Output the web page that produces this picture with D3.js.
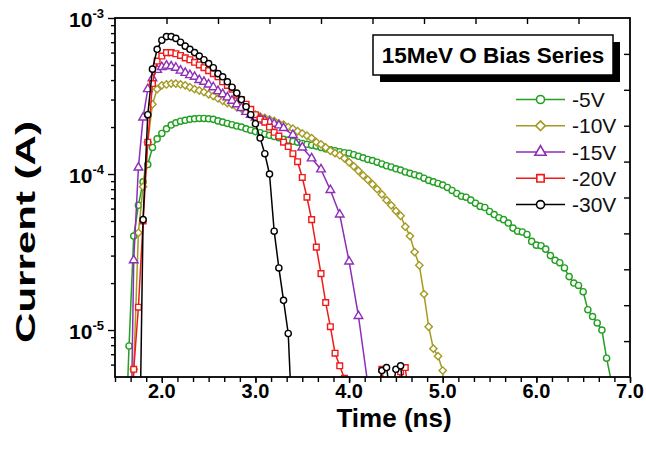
<!DOCTYPE html>
<html><head><meta charset="utf-8">
<script src="https://cdn.jsdelivr.net/npm/d3@7"></script>
<style>body{margin:0;background:#fff}svg{display:block}</style>
</head><body>
<svg id="chart" width="646" height="458"></svg>
<script>
// ---------------- data (time in ns, current in A) ----------------
const timeNs = [1.60,1.65,1.70,1.75,1.80,1.85,1.90,1.95,2.00,2.05,2.10,2.15,2.20,2.25,2.30,2.35,2.40,2.45,2.50,2.55,
2.60,2.65,2.70,2.75,2.80,2.85,2.90,2.95,3.00,3.05,3.10,3.15,3.20,3.25,3.30,3.35,3.40,3.45,3.50,3.55,
3.60,3.65,3.70,3.75,3.80,3.85,3.90,3.95,4.00,4.05,4.10,4.15,4.20,4.25,4.30,4.35,4.40,4.45,4.50,4.55,
4.60,4.65,4.70,4.75,4.80,4.85,4.90,4.95,5.00,5.05,5.10,5.15,5.20,5.25,5.30,5.35,5.40,5.45,5.50,5.55,
5.60,5.65,5.70,5.75,5.80,5.85,5.90,5.95,6.00,6.05,6.10,6.15,6.20,6.25,6.30,6.35,6.40,6.45,6.50,6.55,
6.60,6.65,6.70,6.75,6.80];

const seriesNames = ["-5V","-10V","-15V","-20V","-30V"];

const current5V = [1.26e-6,7.9e-6,4.0e-5,6.3e-5,8.9e-5,1.15e-4,1.48e-4,1.68e-4,1.82e-4,1.95e-4,
2.06e-4,2.13e-4,2.18e-4,2.21e-4,2.24e-4,2.26e-4,2.27e-4,2.27e-4,2.26e-4,2.24e-4,
2.19e-4,2.15e-4,2.11e-4,2.07e-4,2.03e-4,2.0e-4,1.95e-4,1.91e-4,1.87e-4,1.84e-4,
1.80e-4,1.77e-4,1.74e-4,1.71e-4,1.67e-4,1.65e-4,1.62e-4,1.60e-4,1.57e-4,1.55e-4,
1.53e-4,1.51e-4,1.48e-4,1.45e-4,1.43e-4,1.41e-4,1.39e-4,1.37e-4,1.36e-4,1.33e-4,
1.30e-4,1.27e-4,1.24e-4,1.22e-4,1.19e-4,1.16e-4,1.13e-4,1.11e-4,1.08e-4,1.06e-4,
1.03e-4,1.01e-4,9.9e-5,9.7e-5,9.4e-5,9.1e-5,8.9e-5,8.7e-5,8.5e-5,8.2e-5,
7.85e-5,7.5e-5,7.2e-5,7.1e-5,6.8e-5,6.5e-5,6.2e-5,6.1e-5,5.75e-5,5.5e-5,
5.25e-5,5.1e-5,4.85e-5,4.5e-5,4.3e-5,4.25e-5,4.1e-5,3.7e-5,3.5e-5,3.47e-5,
3.3e-5,3.0e-5,2.8e-5,2.7e-5,2.5e-5,2.2e-5,2.0e-5,1.93e-5,1.76e-5,1.35e-5,
1.22e-5,1.11e-5,1.0e-5,6.6e-6,4.7e-6];

const current10V = [null,1.0e-6,5.6e-6,4.2e-5,8.3e-5,1.6e-4,2.8e-4,3.5e-4,3.7e-4,3.75e-4,
3.8e-4,3.8e-4,3.75e-4,3.7e-4,3.6e-4,3.5e-4,3.43e-4,3.35e-4,3.24e-4,3.16e-4,
3.05e-4,2.95e-4,2.85e-4,2.79e-4,2.69e-4,2.63e-4,2.54e-4,2.45e-4,2.40e-4,2.34e-4,
2.29e-4,2.24e-4,2.19e-4,2.11e-4,2.07e-4,2.0e-4,1.95e-4,1.88e-4,1.82e-4,1.76e-4,
1.70e-4,1.60e-4,1.55e-4,1.48e-4,1.41e-4,1.36e-4,1.32e-4,1.26e-4,1.19e-4,1.12e-4,
1.05e-4,9.8e-5,9.2e-5,8.6e-5,8.0e-5,7.4e-5,6.8e-5,6.3e-5,5.8e-5,5.4e-5,
4.6e-5,4.0e-5,3.16e-5,2.6e-5,1.7e-5,1.05e-5,7.6e-6,6.8e-6,5.5e-6,1.0e-6];

const current15V = [null,3.2e-7,2.8e-5,1.1e-4,2.3e-4,3.5e-4,4.1e-4,4.65e-4,4.85e-4,4.95e-4,
4.9e-4,4.8e-4,4.6e-4,4.45e-4,4.3e-4,4.2e-4,4.0e-4,3.9e-4,3.75e-4,3.6e-4,
3.4e-4,3.25e-4,3.1e-4,2.95e-4,2.8e-4,2.65e-4,2.5e-4,2.4e-4,2.3e-4,2.25e-4,
2.2e-4,2.15e-4,2.1e-4,2.05e-4,1.97e-4,null,1.78e-4,null,1.48e-4,null,
1.26e-4,null,1.07e-4,null,7.9e-5,null,5.5e-5,null,2.75e-5,null,
1.23e-5,null,4.5e-6];

const current20V = [null,1.0e-6,5.6e-6,1.4e-5,5.0e-5,1.6e-4,3.8e-4,5.3e-4,5.7e-4,6.0e-4,
6.0e-4,5.9e-4,5.75e-4,5.55e-4,5.4e-4,5.2e-4,5.0e-4,4.8e-4,4.6e-4,4.4e-4,
4.2e-4,3.9e-4,3.7e-4,3.5e-4,3.2e-4,3.0e-4,2.8e-4,2.6e-4,2.4e-4,2.25e-4,
2.15e-4,2.0e-4,1.85e-4,1.75e-4,1.6e-4,1.5e-4,1.35e-4,1.2e-4,9.5e-5,7.1e-5,
5.1e-5,3.4e-5,2.3e-5,1.5e-5,1.05e-5,7.1e-6,5.9e-6,4.9e-6,2.0e-6,null,
null,null,null,null,3.2e-6,5.6e-6,3.5e-6,null,3.5e-6,5.4e-6,
5.75e-6,3.2e-6];

const current30V = [null,null,null,5.0e-7,5.1e-5,2.4e-4,4.7e-4,6.3e-4,7.2e-4,7.6e-4,
7.6e-4,7.4e-4,7.0e-4,6.6e-4,6.3e-4,6.0e-4,5.7e-4,5.4e-4,5.1e-4,4.8e-4,
4.4e-4,4.2e-4,3.9e-4,3.6e-4,3.3e-4,3.0e-4,2.7e-4,2.4e-4,2.1e-4,1.7e-4,
1.35e-4,1.0e-4,4.3e-5,2.5e-5,1.55e-5,9.5e-6,2.0e-6,null,null,null,
null,null,null,null,null,null,null,null,null,null,
null,null,null,null,3.5e-6,5.5e-6,5.75e-6,3.5e-6,5.6e-6,5.9e-6,
3.2e-6];

const xTickValues = [2,3,4,5,6,7];
const xTickLabels = ["2.0","3.0","4.0","5.0","6.0","7.0"];
const yTickValues = [1e-3,1e-4,1e-5];
const yTickExponents = ["-3","-4","-5"];
const legendTitle = "15MeV O Bias Series";
const xTitle = "Time (ns)";
const yTitle = "Current (A)";

// ---------------- drawing ----------------
const FONT = "'Liberation Sans', Arial, Helvetica, sans-serif";
const svg = d3.select("#chart");
const L = 115, R = 630, T = 18, B = 377;
const x = d3.scaleLinear().domain([1.5, 7.0]).range([L, R]);
const y = d3.scaleLog().domain([5e-6, 1e-3]).range([B, T]);

const styles = [
  {color:"#22a022", sym:"circle"},
  {color:"#a39b22", sym:"diamond"},
  {color:"#8e2db8", sym:"triangle"},
  {color:"#f01a1a", sym:"square"},
  {color:"#000000", sym:"circle"}
];
const valuesList = [current5V, current10V, current15V, current20V, current30V];

function symPath(sym, k) {
  if (sym === "circle") return d3.symbol().type(d3.symbolCircle).size(30 * k * k)();
  if (sym === "square") return d3.symbol().type(d3.symbolSquare).size(32 * k * k)();
  if (sym === "diamond") return d3.symbol().type(d3.symbolSquare).size(27 * k * k)();
  return d3.symbol().type(d3.symbolTriangle).size(32 * k * k)();
}
function symTransform(sym, px, py) {
  return `translate(${px},${py})` + (sym === "diamond" ? " rotate(45)" : "");
}

svg.append("defs").append("clipPath").attr("id", "plotClip")
  .append("rect").attr("x", L).attr("y", T).attr("width", R - L).attr("height", B - T);

const plot = svg.append("g").attr("clip-path", "url(#plotClip)");
const line = d3.line().x(d => x(d.t)).y(d => y(d.v));

valuesList.forEach((vals, si) => {
  const st = styles[si];
  const pts = timeNs.map((t, i) => ({t, v: vals[i]})).filter(d => d.v != null);
  const g = plot.append("g");
  g.append("path").datum(pts).attr("d", line)
    .attr("fill", "none").attr("stroke", st.color).attr("stroke-width", 1.5);
  g.selectAll("path.m").data(pts).join("path").attr("class", "m")
    .attr("d", symPath(st.sym, 1))
    .attr("transform", d => symTransform(st.sym, x(d.t), y(d.v)))
    .attr("fill", "#fff").attr("stroke", st.color).attr("stroke-width", 1.4);
});

// ---- axes ----
const axG = svg.append("g");
const minorY = [];
[-6, -5, -4].forEach(e => { for (let k = 2; k <= 9; k++) { const v = k * Math.pow(10, e); if (v >= 5e-6 && v < 1e-3) minorY.push(v); } });
axG.append("g").attr("transform", `translate(${L},0)`)
  .call(d3.axisLeft(y).tickValues(minorY).tickSize(4).tickFormat(""));
axG.append("g").attr("transform", `translate(${L},0)`)
  .call(d3.axisLeft(y).tickValues(yTickValues).tickSize(7).tickFormat(""));
const bottomTicks = d3.range(0, 34).map(k => 1.5 + k / 6);
axG.append("g").attr("transform", `translate(0,${B})`)
  .call(d3.axisBottom(x).tickValues(bottomTicks).tickSize(5).tickFormat(""));
axG.append("g").attr("transform", `translate(0,${B})`)
  .call(d3.axisBottom(x).tickValues(xTickValues).tickSize(6).tickFormat(""));
const frac = d3.scaleLinear().domain([0, 10]);
axG.append("g").attr("transform", `translate(0,${T})`)
  .call(d3.axisTop(frac.copy().range([L, R])).tickValues(d3.range(1, 10)).tickSize(-6).tickFormat(""));
axG.append("g").attr("transform", `translate(${R},0)`)
  .call(d3.axisRight(frac.copy().range([B, T])).tickValues(d3.range(1, 10)).tickSize(-6).tickFormat(""));
axG.selectAll(".domain").remove();
axG.selectAll(".tick line").attr("stroke", "#000").attr("stroke-width", 1.4);

svg.append("rect").attr("x", L).attr("y", T).attr("width", R - L).attr("height", B - T)
  .attr("fill", "none").attr("stroke", "#000").attr("stroke-width", 1.8);

// tick labels
svg.append("g").selectAll("text").data(xTickValues).join("text")
  .attr("x", d => x(d)).attr("y", 398).attr("text-anchor", "middle")
  .attr("font-family", FONT).attr("font-weight", "bold").attr("font-size", 20)
  .text((d, i) => xTickLabels[i]);

const yl = svg.append("g").selectAll("text").data(yTickValues).join("text")
  .attr("x", 104).attr("y", d => y(d) + 8.5).attr("text-anchor", "end")
  .attr("font-family", FONT).attr("font-weight", "bold");
yl.append("tspan").attr("font-size", 21).text("10");
yl.append("tspan").attr("font-size", 13).attr("dy", -9).text((d, i) => yTickExponents[i]);

// axis titles
svg.append("text").attr("x", 394).attr("y", 427).attr("text-anchor", "middle")
  .attr("font-family", FONT).attr("font-weight", "bold").attr("font-size", 26).text(xTitle);
const yt = svg.append("text").attr("transform", "translate(35,232) rotate(-90)")
  .attr("text-anchor", "middle").attr("font-family", FONT).attr("font-weight", "bold")
  .attr("font-size", 27).text(yTitle);
yt.attr("textLength", 222).attr("lengthAdjust", "spacingAndGlyphs");

// legend title box with shadow
const lg = svg.append("g");
lg.append("rect").attr("x", 380).attr("y", 42).attr("width", 240).attr("height", 40).attr("fill", "#000");
lg.append("rect").attr("x", 373).attr("y", 35).attr("width", 240).attr("height", 40)
  .attr("fill", "#fff").attr("stroke", "#000").attr("stroke-width", 1.5);
lg.append("text").attr("x", 493).attr("y", 63).attr("text-anchor", "middle")
  .attr("font-family", FONT).attr("font-weight", "bold").attr("font-size", 22.5).text(legendTitle);

// legend entries
const legendY = d3.scaleLinear().domain([0, 4]).range([99.5, 204.6]);
seriesNames.forEach((name, i) => {
  const st = styles[i], cy = legendY(i);
  lg.append("line").attr("x1", 516).attr("x2", 565).attr("y1", cy).attr("y2", cy)
    .attr("stroke", st.color).attr("stroke-width", 1.5);
  lg.append("path").attr("d", symPath(st.sym, 1.3)).attr("transform", symTransform(st.sym, 540.5, cy))
    .attr("fill", "#fff").attr("stroke", st.color).attr("stroke-width", 1.6);
  lg.append("text").attr("x", 572).attr("y", cy + 7.5).attr("font-family", FONT)
    .attr("font-size", 21).attr("fill", "#111").text(name);
});
</script>
</body></html>
